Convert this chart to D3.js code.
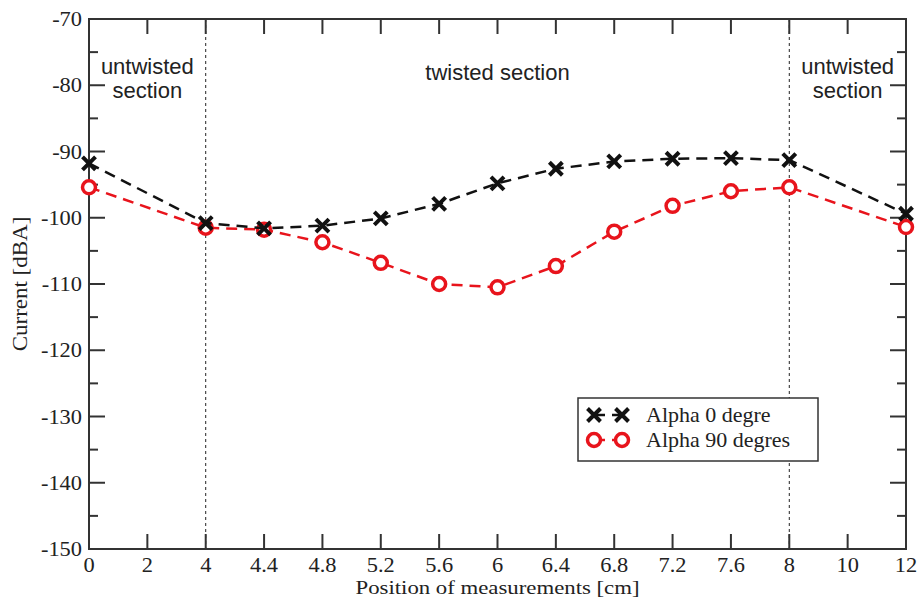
<!DOCTYPE html>
<html><head><meta charset="utf-8">
<script src="https://cdn.jsdelivr.net/npm/d3@7"></script>
<style>body{margin:0;background:#fff}</style>
</head><body>
<script>
const xLabels = ["0","2","4","4.4","4.8","5.2","5.6","6","6.4","6.8","7.2","7.6","8","10","12"];
const alpha0  = [-91.8, null, -100.8, -101.6, -101.2, -100.1, -97.9, -94.8, -92.6, -91.5, -91.1, -91.0, -91.3, null, -99.4];
const alpha90 = [-95.4, null, -101.5, -101.8, -103.7, -106.8, -110.0, -110.5, -107.3, -102.1, -98.2, -96.0, -95.4, null, -101.4];
const yTicks = [-150,-140,-130,-120,-110,-100,-90,-80,-70];
const yMinor = [-145,-135,-125,-115,-105,-95,-85,-75];
const dividers = ["4","8"];
const seriesNames = ["Alpha 0 degre","Alpha 90 degres"];

const W=917,H=599;
const m={l:89,t:19,r:906,b:549};
const svg=d3.select("body").append("svg").attr("width",W).attr("height",H);
const x=d3.scalePoint().domain(xLabels).range([m.l,m.r]);
const y=d3.scaleLinear().domain([-150,-70]).range([m.b,m.t]);
const frame="#333";
const SERIF="Liberation Serif, 'Times New Roman', serif";

function stext(px,py,t,size,anchor,sx,rot){
  return svg.append("text")
    .attr("transform",`translate(${px},${py})${rot?` rotate(${rot})`:""} scale(${sx},1)`)
    .attr("text-anchor",anchor).attr("font-family",SERIF).attr("font-size",size)
    .attr("fill","#222").text(t);
}

// dividers
dividers.forEach(d=>{
  svg.append("line").attr("x1",x(d)).attr("x2",x(d)).attr("y1",m.t).attr("y2",m.b)
    .attr("stroke","#222").attr("stroke-width",1).attr("stroke-dasharray","3,3");
});

// ticks
const g=svg.append("g");
xLabels.forEach(l=>{
  g.append("line").attr("x1",x(l)).attr("x2",x(l)).attr("y1",m.b).attr("y2",m.b-15).attr("stroke",frame).attr("stroke-width",2);
  g.append("line").attr("x1",x(l)).attr("x2",x(l)).attr("y1",m.t).attr("y2",m.t+15).attr("stroke",frame).attr("stroke-width",2);
  stext(x(l),m.b+23,l,20,"middle",1.12);
});
yTicks.forEach(v=>{
  g.append("line").attr("x1",m.l).attr("x2",m.l+16).attr("y1",y(v)).attr("y2",y(v)).attr("stroke",frame).attr("stroke-width",2);
  g.append("line").attr("x1",m.r).attr("x2",m.r-16).attr("y1",y(v)).attr("y2",y(v)).attr("stroke",frame).attr("stroke-width",2);
  stext(m.l-7,y(v)+7,v,20,"end",1.12);
});
yMinor.forEach(v=>{
  g.append("line").attr("x1",m.l).attr("x2",m.l+9).attr("y1",y(v)).attr("y2",y(v)).attr("stroke",frame).attr("stroke-width",2);
  g.append("line").attr("x1",m.r).attr("x2",m.r-9).attr("y1",y(v)).attr("y2",y(v)).attr("stroke",frame).attr("stroke-width",2);
});
svg.append("rect").attr("x",m.l).attr("y",m.t).attr("width",m.r-m.l).attr("height",m.b-m.t)
  .attr("fill","none").attr("stroke",frame).attr("stroke-width",2);

// axis titles
stext((m.l+m.r)/2,594,"Position of measurements [cm]",19,"middle",1.2);
stext(27,284,"Current [dBA]",20,"middle",1.15,-90);

// section labels
const sl=[{x:(x("0")+x("4"))/2,lines:["untwisted","section"]},{x:(x("4")+x("8"))/2,lines:["twisted section"]},{x:(x("8")+x("12"))/2,lines:["untwisted","section"]}];
sl.forEach(s=>{
  s.lines.forEach((t,i)=>{
    svg.append("text").attr("x",s.x).attr("y",(s.lines.length===1?80:74)+i*24).attr("text-anchor","middle")
      .attr("font-family","Liberation Sans, Arial, sans-serif").attr("font-size",22).attr("fill","#222").text(t);
  });
});

function draw(vals,color,type){
  const pts=xLabels.map((l,i)=>({l,v:vals[i]})).filter(d=>d.v!==null);
  svg.append("path").datum(pts).attr("fill","none").attr("stroke",color).attr("stroke-width",2.5)
    .attr("stroke-dasharray","11,7")
    .attr("d",d3.line().x(d=>x(d.l)).y(d=>y(d.v)));
  pts.forEach(d=>marker(x(d.l),y(d.v),color,type));
}
function marker(cx,cy,color,type){
  if(type==="x"){
    const s=6.5;
    svg.append("path").attr("d",`M${cx-s},${cy-s}L${cx+s},${cy+s}M${cx-s},${cy+s}L${cx+s},${cy-s}`)
      .attr("stroke",color).attr("stroke-width",4);
  } else {
    svg.append("circle").attr("cx",cx).attr("cy",cy).attr("r",6.5).attr("fill","#fff")
      .attr("stroke",color).attr("stroke-width",3.5);
  }
}
draw(alpha90,"#e8141c","o");
draw(alpha0,"#111","x");

// legend
const lg={x:578,y:398,w:240,h:63};
svg.append("rect").attr("x",lg.x).attr("y",lg.y).attr("width",lg.w).attr("height",lg.h)
  .attr("fill","#fff").attr("stroke",frame).attr("stroke-width",1.5);
const legItems=[{n:seriesNames[0],c:"#111",t:"x",y:415},{n:seriesNames[1],c:"#e8141c",t:"o",y:440}];
legItems.forEach(it=>{
  svg.append("line").attr("x1",594).attr("x2",622).attr("y1",it.y).attr("y2",it.y)
    .attr("stroke",it.c).attr("stroke-width",2.5).attr("stroke-dasharray","11,7");
  marker(594,it.y,it.c,it.t); marker(622,it.y,it.c,it.t);
  stext(646,it.y+7,it.n,20,"start",1.1);
});
</script>
</body></html>
